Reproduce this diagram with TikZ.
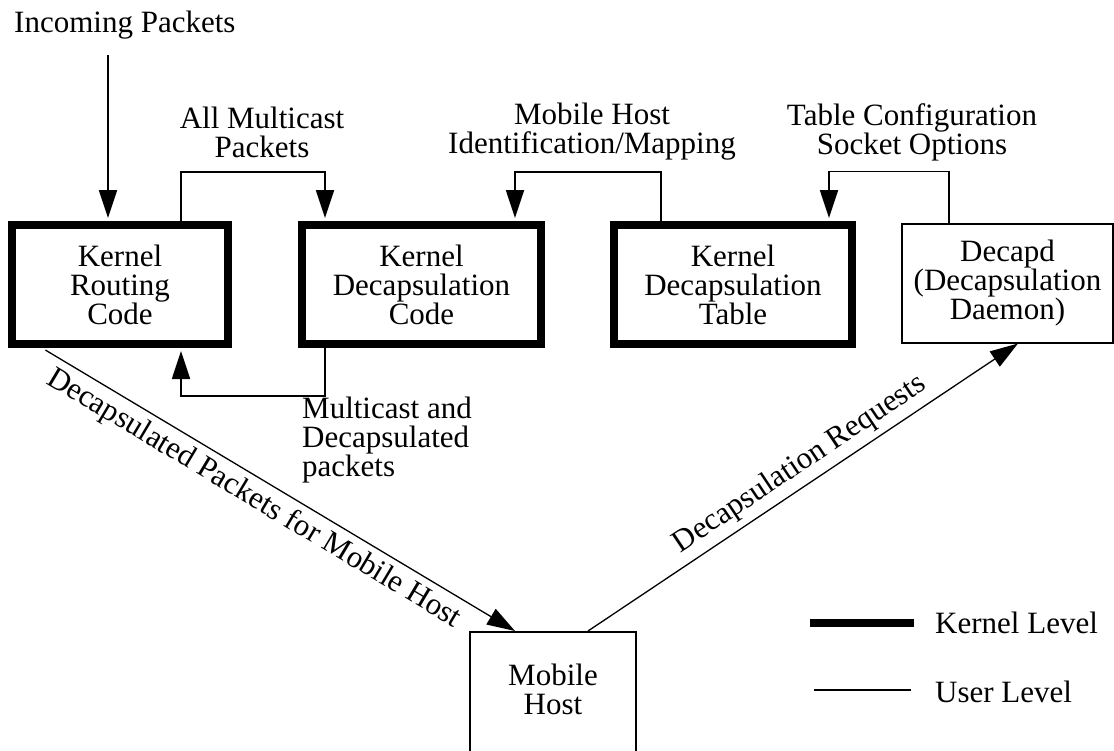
\documentclass[tikz,border=0pt]{standalone}
\usepackage{fontspec}
\setmainfont{Liberation Serif}
\usetikzlibrary{arrows.meta}

\begin{document}
\begin{tikzpicture}[
x=1pt, y=-1pt,
font=\fontsize{31}{29}\selectfont,
kernelbox/.style={draw, line width=8pt, align=center, minimum height=119pt, inner sep=0pt},
userbox/.style={draw, line width=2pt, align=center, inner sep=0pt},
flow/.style={line width=1.8pt, shorten >=3pt, -{Triangle[length=28pt,width=18pt]}},
slant/.style={line width=1.3pt, -{Triangle[length=28pt,width=18pt]}},
tag/.style={align=center, inner sep=0pt}
]

\useasboundingbox (0,0) rectangle (1114,750);

%%%%%%%%%%%%%%%%%%%%%%%%%%%%%%%%%%%%%%%%%%%%%%%%%%%%%%
% KERNEL LEVEL
%%%%%%%%%%%%%%%%%%%%%%%%%%%%%%%%%%%%%%%%%%%%%%%%%%%%%%

\node[kernelbox, minimum width=216pt](routing)
at (120,284.5)
{Kernel\\Routing\\Code};

\node[kernelbox, minimum width=239pt](decapcode)
at (421.5,284.5)
{Kernel\\Decapsulation\\Code};

\node[kernelbox, minimum width=238pt](decaptable)
at (733,284.5)
{Kernel\\Decapsulation\\Table};

%%%%%%%%%%%%%%%%%%%%%%%%%%%%%%%%%%%%%%%%%%%%%%%%%%%%%%
% USER LEVEL
%%%%%%%%%%%%%%%%%%%%%%%%%%%%%%%%%%%%%%%%%%%%%%%%%%%%%%

\node[userbox, minimum width=211pt, minimum height=119pt](decapd)
at (1007.5,283)
{Decapd\\(Decapsulation\\Daemon)};

\node[userbox, minimum width=166pt, minimum height=140pt](mobile)
at (553,702)
{};

\node[tag](mobiletext) at (553,689) {Mobile\\Host};

%%%%%%%%%%%%%%%%%%%%%%%%%%%%%%%%%%%%%%%%%%%%%%%%%%%%%%
% LABELS
%%%%%%%%%%%%%%%%%%%%%%%%%%%%%%%%%%%%%%%%%%%%%%%%%%%%%%

\node[tag, anchor=west](incoming) at (14,25) {Incoming Packets};
\coordinate (incstart) at (108,55);

\node[tag](allmc) at (262,132) {All Multicast\\Packets};

\node[tag](mhid) at (592,132) {Mobile Host\\Identification/Mapping};

\node[tag](tblcfg) at (912,132) {Table Configuration\\Socket Options};

\node[tag, align=left, anchor=west](mcdecap) at (302,440)
{Multicast and\\Decapsulated\\packets};

%%%%%%%%%%%%%%%%%%%%%%%%%%%%%%%%%%%%%%%%%%%%%%%%%%%%%%
% LINES
%%%%%%%%%%%%%%%%%%%%%%%%%%%%%%%%%%%%%%%%%%%%%%%%%%%%%%

\draw[flow] (incstart) -- ([xshift=-12pt]routing.north);

\draw[flow] ([xshift=61pt]routing.north) -- ++(0,-49) -| ([xshift=-96.5pt]decapcode.north);

\draw[flow] ([xshift=-72pt]decaptable.north) -- ++(0,-49) -| ([xshift=93.5pt]decapcode.north);

\draw[flow] ([xshift=-58.5pt]decapd.north) -- ++(0,-51) -| ([xshift=96pt]decaptable.north);

\draw[flow] ([xshift=-96.5pt]decapcode.south) -- ++(0,48) -| ([xshift=61pt]routing.south);

\draw[slant, shorten <=4pt] ([xshift=-78pt]routing.south) --
node[pos=0.47, sloped, below, inner sep=6pt]{Decapsulated Packets for Mobile Host}
([xshift=-38pt]mobile.north);

\draw[slant] ([xshift=35pt]mobile.north) --
node[pos=0.52, sloped, above, inner sep=6pt]{Decapsulation Requests}
([xshift=10.5pt]decapd.south);

%%%%%%%%%%%%%%%%%%%%%%%%%%%%%%%%%%%%%%%%%%%%%%%%%%%%%%
% LEGEND
%%%%%%%%%%%%%%%%%%%%%%%%%%%%%%%%%%%%%%%%%%%%%%%%%%%%%%

\coordinate (kernstart) at (810,623);
\coordinate (kernend) at (914,623);
\draw[line width=8pt] (kernstart) -- (kernend);
\node[tag, anchor=west](kernlevel) at (935,623) {Kernel Level};

\coordinate (userstart) at (814,690);
\coordinate (userend) at (911,690);
\draw[line width=1.3pt] (userstart) -- (userend);
\node[tag, anchor=west](userlevel) at (935,692) {User Level};

\end{tikzpicture}
\end{document}
